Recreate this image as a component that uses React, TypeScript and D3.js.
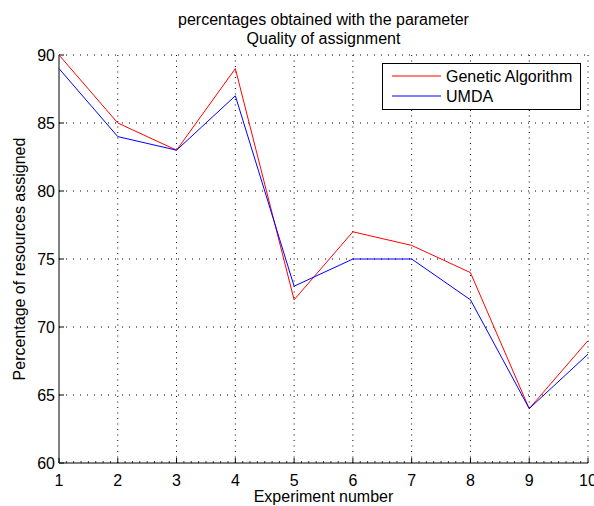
import React from "react";
import * as d3 from "d3";

const experiments = [1, 2, 3, 4, 5, 6, 7, 8, 9, 10];
const gaValues = [90, 85, 83, 89, 72, 77, 76, 74, 64, 69];
const umdaValues = [89, 84, 83, 87, 73, 75, 75, 72, 64, 68];
const yTicks = [60, 65, 70, 75, 80, 85, 90];
const seriesNames = ["Genetic Algorithm", "UMDA"];
const titleLines = ["percentages obtained with the parameter", "Quality of assignment"];

const W = 594, H = 506;
const m = { left: 59, right: 6, top: 55, bottom: 43 };
const font = "'Liberation Sans', Arial, Helvetica, sans-serif";
const fs = 16;

export default function App() {
  const x = d3.scaleLinear().domain([1, 10]).range([m.left, W - m.right]);
  const y = d3.scaleLinear().domain([60, 90]).range([H - m.bottom, m.top]);
  const line = d3.line<number>().x((_, i) => x(experiments[i])).y((v) => y(v));
  const minor: number[] = [];
  for (let i = 1; i < 10; i++) for (let k = 1; k < 8; k++) minor.push(i + k / 8);
  const x0 = x(1), x1 = x(10), y0 = y(60), y1 = y(90);
  return (
    <svg width={W} height={H} style={{ position: "absolute", left: 0, top: 0, background: "#fff" }} fontFamily={font}>
      <rect width={W} height={H} fill="#fff" />
      {/* grid */}
      {experiments.slice(1).map((e) => (
        <line key={"vg" + e} x1={x(e)} x2={x(e)} y1={y0} y2={y1} stroke="#000" strokeWidth={1} strokeDasharray="1,4.5" />
      ))}
      {yTicks.slice(1).map((t) => (
        <line key={"hg" + t} x1={x0} x2={x1} y1={y(t)} y2={y(t)} stroke="#000" strokeWidth={1} strokeDasharray="1,6" />
      ))}
      {/* axes */}
      <line x1={x0} x2={x1} y1={y0} y2={y0} stroke="#000" strokeWidth={1} />
      <line x1={x0} x2={x0} y1={y0} y2={y1} stroke="#000" strokeWidth={1} />
      {experiments.map((e) => (
        <line key={"xt" + e} x1={x(e)} x2={x(e)} y1={y0} y2={y0 - 5} stroke="#000" />
      ))}
      {minor.map((v, i) => (
        <line key={"mt" + i} x1={x(v)} x2={x(v)} y1={y0} y2={y0 - 2} stroke="#000" strokeWidth={0.8} />
      ))}
      {yTicks.map((t) => (
        <line key={"yt" + t} x1={x0} x2={x0 + 5} y1={y(t)} y2={y(t)} stroke="#000" />
      ))}
      {experiments.map((e) => (
        <text key={"xl" + e} x={x(e)} y={y0 + 23} textAnchor="middle" fontSize={fs} fill="#000">{e}</text>
      ))}
      {yTicks.map((t) => (
        <text key={"yl" + t} x={x0 - 4} y={y(t) + 6} textAnchor="end" fontSize={fs} fill="#000">{t}</text>
      ))}
      {/* lines */}
      <path d={line(gaValues) || ""} fill="none" stroke="#ff0000" strokeWidth={1} />
      <path d={line(umdaValues) || ""} fill="none" stroke="#0000ff" strokeWidth={1} />
      {/* titles */}
      {titleLines.map((t, i) => (
        <text key={"t" + i} x={(x0 + x1) / 2} y={25 + i * 19} textAnchor="middle" fontSize={fs} fill="#000">{t}</text>
      ))}
      <text x={(x0 + x1) / 2} y={502} textAnchor="middle" fontSize={fs} fill="#000">Experiment number</text>
      <text transform={`translate(25,${(y0 + y1) / 2}) rotate(-90)`} textAnchor="middle" fontSize={fs} fill="#000">Percentage of resources assigned</text>
      {/* legend */}
      <rect x={382.5} y={63.5} width={198} height={46} fill="#fff" stroke="#000" strokeWidth={1} />
      {seriesNames.map((n, i) => (
        <g key={n}>
          <line x1={392} x2={441} y1={76 + i * 20} y2={76 + i * 20} stroke={i === 0 ? "#ff0000" : "#0000ff"} strokeWidth={1} />
          <text x={446} y={82 + i * 20} fontSize={fs} fill="#000">{n}</text>
        </g>
      ))}
    </svg>
  );
}
